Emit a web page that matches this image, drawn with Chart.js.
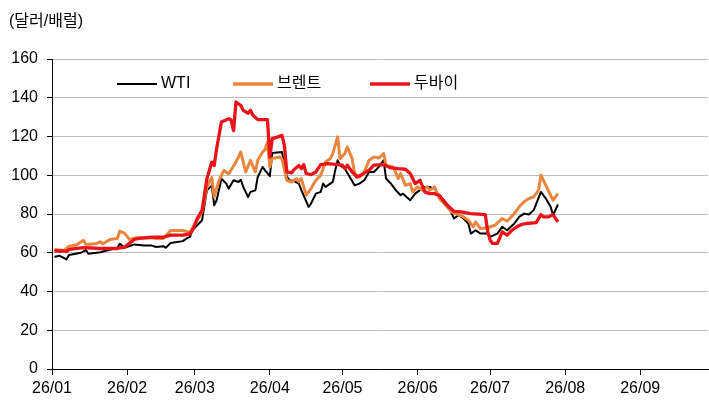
<!DOCTYPE html>
<html>
<head>
<meta charset="utf-8">
<script src="https://cdn.jsdelivr.net/npm/chart.js@4.4.1/dist/chart.umd.min.js"></script>
<style>
  html, body { margin: 0; padding: 0; background: #fff; }
  #wrap { width: 709px; height: 414px; }
</style>
</head>
<body>
<div id="wrap"><canvas id="oil"></canvas></div>
<script>
// day offsets from 2026-01-01, prices in $/bbl
var wtiDays = [1, 3, 6, 7, 12, 14, 15, 20, 27, 28, 30, 34, 38, 41, 43, 46, 47, 49, 54, 56, 57, 58, 60, 62, 64, 66, 67, 68, 70, 72, 73, 75, 77, 78, 79, 81, 82, 84, 85, 87, 88, 90, 91, 95, 97, 98, 100, 102, 103, 106, 107, 109, 111, 112, 113, 116, 117, 118, 119, 121, 123, 125, 127, 129, 131, 133, 135, 137, 138, 140, 142, 144, 145, 148, 150, 152, 154, 156, 158, 160, 162, 164, 166, 168, 170, 172, 173, 175, 177, 180, 181, 184, 186, 188, 191, 193, 195, 197, 199, 202, 204, 206, 207, 209];
var wtiPrices = [57.8, 58.5, 56.6, 58.8, 60, 61.4, 59.5, 60.3, 62.6, 64.6, 62.6, 64.3, 63.8, 63.8, 63, 63.4, 62.6, 65, 66, 67.7, 68.2, 71.6, 74.2, 76.8, 92.2, 94.8, 84.5, 87.1, 98.2, 95.7, 93.1, 97.4, 96.5, 97.7, 94, 88.8, 91.4, 92.2, 99.1, 104.3, 102.5, 99.5, 111.5, 112, 99.5, 97.4, 97, 95.7, 92.3, 83.7, 85.4, 90.5, 91.4, 95.7, 94, 96.6, 102.6, 107.7, 105.1, 103.4, 99.1, 94.8, 95.7, 97.4, 101.7, 101.7, 104.3, 107.7, 98.3, 95.7, 92.3, 89.7, 90.5, 87.1, 90.5, 92.3, 94, 94, 93.1, 88.8, 87.1, 83.7, 77.7, 79.4, 77.7, 75.1, 69.9, 71.6, 69.9, 69.9, 68.2, 69.9, 73.4, 71.6, 75.1, 78.5, 80.2, 79.7, 82, 91.4, 88, 83.7, 79.4, 84.9];

var brentDays = [1, 5, 6, 7, 10, 13, 14, 18, 20, 21, 24, 27, 28, 30, 32, 35, 41, 43, 46, 49, 54, 57, 60, 62, 64, 66, 67, 69, 71, 73, 76, 78, 80, 82, 84, 85, 87, 88, 89, 90, 91, 94, 95, 97, 99, 101, 102, 103, 105, 107, 109, 111, 113, 115, 116, 118, 119, 121, 122, 124, 125, 127, 129, 131, 133, 135, 137, 138, 141, 143, 144, 146, 148, 149, 151, 153, 155, 156, 158, 160, 162, 165, 167, 170, 172, 174, 175, 177, 180, 183, 186, 188, 191, 193, 195, 197, 199, 201, 202, 204, 207, 209];
var brentPrices = [61.7, 61.2, 62.2, 63.4, 64, 66.4, 64.3, 64.6, 65.7, 64.6, 66.9, 67.4, 71.2, 70, 66.9, 67.7, 67.7, 67.4, 67.4, 71.5, 71.5, 70.5, 76.8, 81, 94, 98.8, 88.8, 97.4, 102.5, 100.8, 106.8, 112, 101.7, 107.7, 101.7, 107.7, 112, 113.2, 117.1, 104.3, 108.6, 109.4, 108.6, 97.4, 96.5, 98.2, 96.6, 98.3, 89.7, 93.1, 97.4, 100, 106.9, 108.6, 111.2, 119.8, 108.6, 111.2, 114.6, 108.6, 100.9, 99.1, 101.7, 107.7, 109.4, 108.9, 111.2, 105.1, 104.3, 98.3, 100.9, 94.8, 95.7, 91.4, 94, 92.3, 94, 92.3, 94, 88, 85.4, 81.1, 80.2, 78.5, 76.8, 73.4, 75.9, 72.5, 72.9, 74.2, 77.7, 76.3, 80.2, 83.7, 86.3, 88, 88.8, 92.3, 100, 94.8, 87.1, 90.5];

var dubaiDays = [1, 5, 6, 7, 13, 20, 27, 30, 34, 36, 41, 46, 49, 54, 57, 58, 60, 62, 64, 66, 67, 68, 70, 73, 74, 75, 76, 78, 79, 81, 82, 83, 85, 89, 90, 91, 93, 95, 96, 97, 99, 100, 102, 103, 104, 105, 107, 109, 111, 114, 118, 120, 121, 122, 124, 126, 128, 131, 133, 137, 140, 143, 146, 148, 150, 152, 154, 156, 158, 160, 162, 164, 166, 169, 173, 179, 180, 181, 182, 184, 186, 188, 190, 192, 194, 196, 200, 202, 203, 205, 207, 209];
var dubaiPrices = [60.9, 60.9, 60.6, 61.7, 62.6, 62.2, 62.2, 62.9, 66.9, 67.4, 68, 68, 69.1, 69.1, 69.8, 71.6, 77.6, 82, 98.2, 106.8, 105, 113.7, 127.5, 129.2, 128.5, 123, 137.8, 136, 133.5, 132, 133.5, 131, 128.7, 128.7, 109.4, 118.9, 119.7, 120.6, 115.4, 101.7, 101.2, 103, 105, 103.4, 105.5, 100.9, 100.3, 101.7, 105.5, 106, 105.5, 105.2, 103.4, 105.2, 101.7, 99.1, 100.3, 102.6, 105.2, 105.5, 103.8, 103.4, 103.1, 100.9, 95.7, 97.4, 91.4, 90.5, 90.5, 89.7, 86.3, 83.7, 81.4, 81.1, 80.2, 79.7, 70.8, 66.5, 64.8, 64.8, 70.8, 69.1, 71.6, 73.4, 74.6, 75.1, 75.6, 79.7, 78.5, 78.5, 79.7, 75.9];

// month starts on the x axis
var monthDays = [0, 31, 59, 90, 120, 151, 181, 212, 243];
var monthLabels = ['26/01', '26/02', '26/03', '26/04', '26/05', '26/06', '26/07', '26/08', '26/09'];
var seriesNames = ['WTI', '브렌트', '두바이'];
var seriesColors = ['#000000', '#EA853E', '#E8141A'];

function toPoints(days, prices) {
    return days.map(function (d, i) { return { x: d, y: prices[i] }; });
}

var FONT = "'Liberation Sans', 'Noto Sans CJK KR', sans-serif";
Chart.defaults.font.family = FONT;
Chart.defaults.font.size = 16;
Chart.defaults.color = '#000';

// unit label + in-plot legend
var decor = {
    id: 'decor',
    afterDraw: function (chart) {
        var c = chart.ctx, a = chart.chartArea;
        c.save();
        c.font = '16px ' + FONT;
        c.fillStyle = '#000';
        c.textBaseline = 'middle';
        c.textAlign = 'left';
        c.fillText('(달러/배럴)', 9, 22);

        var offs = [65, 181, 318];
        var widths = [2, 3.5, 3.5];
        var ly = a.top + 25;
        for (var i = 0; i < 3; i++) {
            var x0 = a.left + offs[i];
            c.strokeStyle = seriesColors[i];
            c.lineWidth = widths[i];
            c.beginPath();
            c.moveTo(x0, ly);
            c.lineTo(x0 + 40, ly);
            c.stroke();
            c.fillText(seriesNames[i], x0 + 44, ly);
        }
        c.restore();
    }
};

var ctx = document.getElementById('oil').getContext('2d');
var chart = new Chart(ctx, {
    type: 'line',
    data: {
        datasets: [{
            label: seriesNames[0],
            data: toPoints(wtiDays, wtiPrices),
            borderColor: seriesColors[0],
            borderWidth: 2,
            order: 2
        }, {
            label: seriesNames[1],
            data: toPoints(brentDays, brentPrices),
            borderColor: seriesColors[1],
            borderWidth: 3,
            order: 1
        }, {
            label: seriesNames[2],
            data: toPoints(dubaiDays, dubaiPrices),
            borderColor: seriesColors[2],
            borderWidth: 3.3,
            order: 0
        }]
    },
    options: {
        responsive: true,
        maintainAspectRatio: false,
        animation: false,
        elements: { point: { radius: 0 }, line: { tension: 0, borderJoinStyle: 'round' } },
        layout: { padding: { top: 59, right: 1, left: 0, bottom: 0 } },
        plugins: { legend: { display: false }, tooltip: { enabled: false } },
        scales: {
            x: {
                type: 'linear',
                min: 0,
                max: 271,
                afterBuildTicks: function (scale) {
                    scale.ticks = monthDays.map(function (d) { return { value: d }; });
                },
                afterFit: function (scale) { scale.height = 45; },
                ticks: {
                    autoSkip: false,
                    maxRotation: 0,
                    padding: 4,
                    callback: function (v) { return monthLabels[monthDays.indexOf(v)]; }
                },
                grid: { drawOnChartArea: false, drawTicks: true, tickLength: 6, tickColor: '#000' },
                border: { color: '#000', width: 1 }
            },
            y: {
                min: 0,
                max: 160,
                afterFit: function (scale) { scale.width = 52; },
                ticks: { stepSize: 20, padding: 9 },
                grid: { color: '#bfbfbf', tickColor: '#000', tickLength: 5 },
                border: { color: '#000', width: 1 }
            }
        }
    },
    plugins: [decor]
});
</script>
</body>
</html>
